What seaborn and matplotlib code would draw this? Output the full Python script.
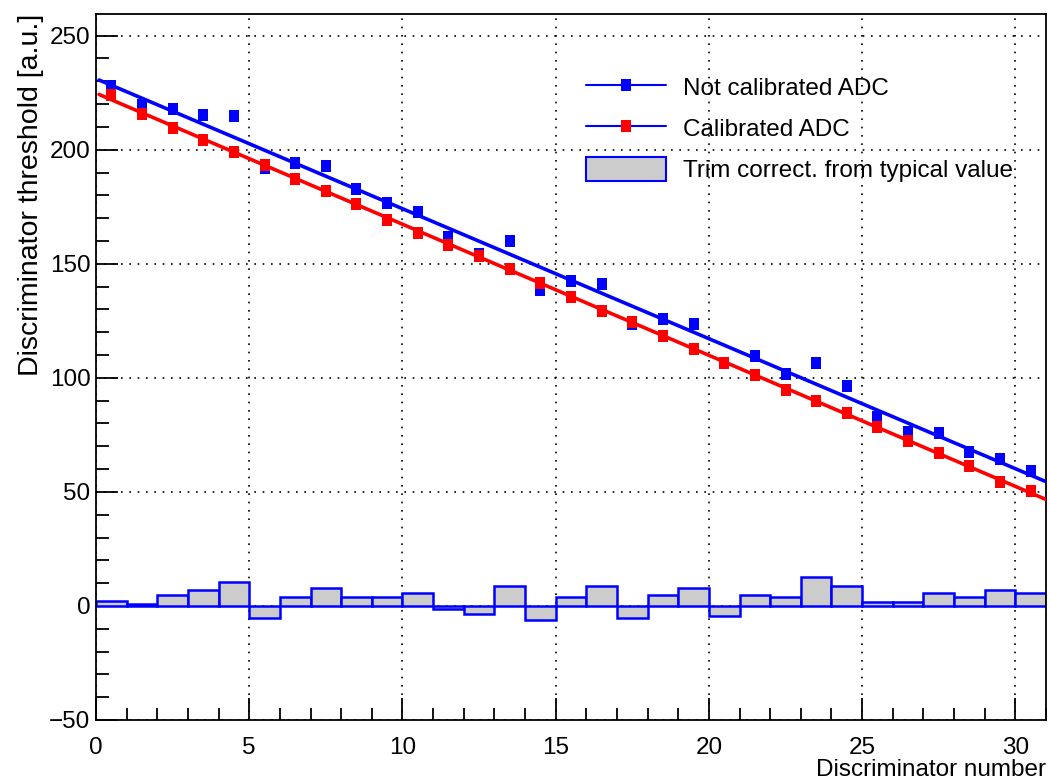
import numpy as np
import pandas as pd
import matplotlib
matplotlib.use("Agg")
import matplotlib.pyplot as plt
from matplotlib.lines import Line2D
from matplotlib.patches import Patch
from matplotlib.ticker import MultipleLocator
import seaborn as sns

# Data
channel = list(range(31))
not_calibrated = [228, 219.7, 218, 215.4, 215, 192, 194, 193, 183, 176.8,
                  172.8, 161.8, 154.4, 160, 138.6, 142.5, 141.2, 123.7, 125.9, 123.7,
                  106.6, 109.6, 101.8, 106.6, 96.5, 82.9, 76.3, 75.9, 67.5, 64.5, 59.2]
calibrated = [224, 215.8, 209.6, 204.4, 199, 193.4, 187.3, 182, 176.3, 169.3,
              163.6, 158.3, 153.5, 147.8, 141.7, 135.5, 129.4, 124.6, 118.4, 112.7,
              106.6, 101.3, 94.7, 89.9, 84.6, 78.5, 72.4, 67.1, 61.4, 54.4, 50.4]
trim_correction = [2.0, 0.9, 4.8, 6.9, 10.5, -5.4, 3.8, 7.9, 3.8, 3.8,
                   5.7, -1.5, -3.4, 8.9, -6.3, 3.8, 8.9, -5.1, 4.8, 7.9,
                   -4.4, 4.8, 3.8, 12.7, 8.9, 1.9, 1.9, 5.7, 3.8, 6.9, 5.7]

df = pd.DataFrame({
    "channel": np.array(channel) + 0.5,
    "not_cal": not_calibrated,
    "cal": calibrated,
    "trim": trim_correction,
})

sns.set_style("ticks")
plt.rcParams["font.family"] = ["Liberation Sans", "DejaVu Sans"]
plt.rcParams["font.size"] = 17
for k in ["text.color", "axes.labelcolor", "xtick.color", "ytick.color", "axes.edgecolor"]:
    plt.rcParams[k] = "black"

fig = plt.figure(figsize=(10.5, 7.82), dpi=100)
ax = fig.add_axes([96 / 1050, 62 / 782, 950 / 1050, 706 / 782])

# Trim correction histogram
sns.histplot(data=df, x="channel", weights="trim", binwidth=1, binrange=(0, 31),
             color="#cccccc", edgecolor="#0000ff", linewidth=1.8, alpha=1,
             ax=ax, zorder=2)

# Straight-line fits
x_fit = np.array([0.1, 31.0])
for col, c in [("not_cal", "#0000ff"), ("cal", "#ff0000")]:
    p = np.polyfit(df["channel"], df[col], 1)
    sns.lineplot(x=x_fit, y=np.polyval(p, x_fit), color=c, linewidth=2.6,
                 ax=ax, zorder=3)

tall_square = [(-1, -1.2), (1, -1.2), (1, 1.2), (-1, 1.2)]
sns.scatterplot(data=df, x="channel", y="not_cal", color="#0000ff", marker=tall_square,
                s=85, linewidth=0, ax=ax, zorder=4)
sns.scatterplot(data=df, x="channel", y="cal", color="#ff0000", marker=tall_square,
                s=85, linewidth=0, ax=ax, zorder=4)

ax.set_xlim(0, 31)
ax.set_ylim(-50, 259.5)
ax.xaxis.set_major_locator(MultipleLocator(5))
ax.xaxis.set_minor_locator(MultipleLocator(1))
ax.yaxis.set_major_locator(MultipleLocator(50))
ax.yaxis.set_minor_locator(MultipleLocator(10))
ax.tick_params(which="major", direction="in", length=16, width=1.3, labelsize=17.5)
ax.tick_params(axis="x", which="major", pad=12)
ax.tick_params(axis="y", which="major", pad=4)
ax.tick_params(which="minor", direction="in", length=9, width=1.3)
ax.grid(True, which="major", color="black", linestyle=(0, (1, 4)), linewidth=1.2)
ax.set_axisbelow(True)
for s in ax.spines.values():
    s.set_linewidth(1.3)
    s.set_visible(True)

ax.set_xlabel("Discriminator number", fontsize=17.5, loc="right", labelpad=0)
ax.set_ylabel("Discriminator threshold [a.u.]", fontsize=20.5, loc="top", labelpad=4)

handles = [
    Line2D([], [], color="#0000ff", linewidth=1.5, marker=tall_square, markersize=8,
           markerfacecolor="#0000ff", markeredgewidth=0),
    Line2D([], [], color="#0000ff", linewidth=1.5, marker=tall_square, markersize=8,
           markerfacecolor="#ff0000", markeredgewidth=0),
    Patch(facecolor="#cccccc", edgecolor="#0000ff", linewidth=1.5),
]
labels = ["Not calibrated ADC", "Calibrated ADC", "Trim correct. from typical value"]
fig.legend(handles, labels, loc="upper left", bbox_to_anchor=(586 / 1050, 1 - 75 / 782),
           frameon=False, fontsize=17.5, borderpad=0, borderaxespad=0,
           handlelength=3.3, handleheight=1.15, handletextpad=0.7, labelspacing=0.65)

fig.savefig("out.png", dpi=100)
